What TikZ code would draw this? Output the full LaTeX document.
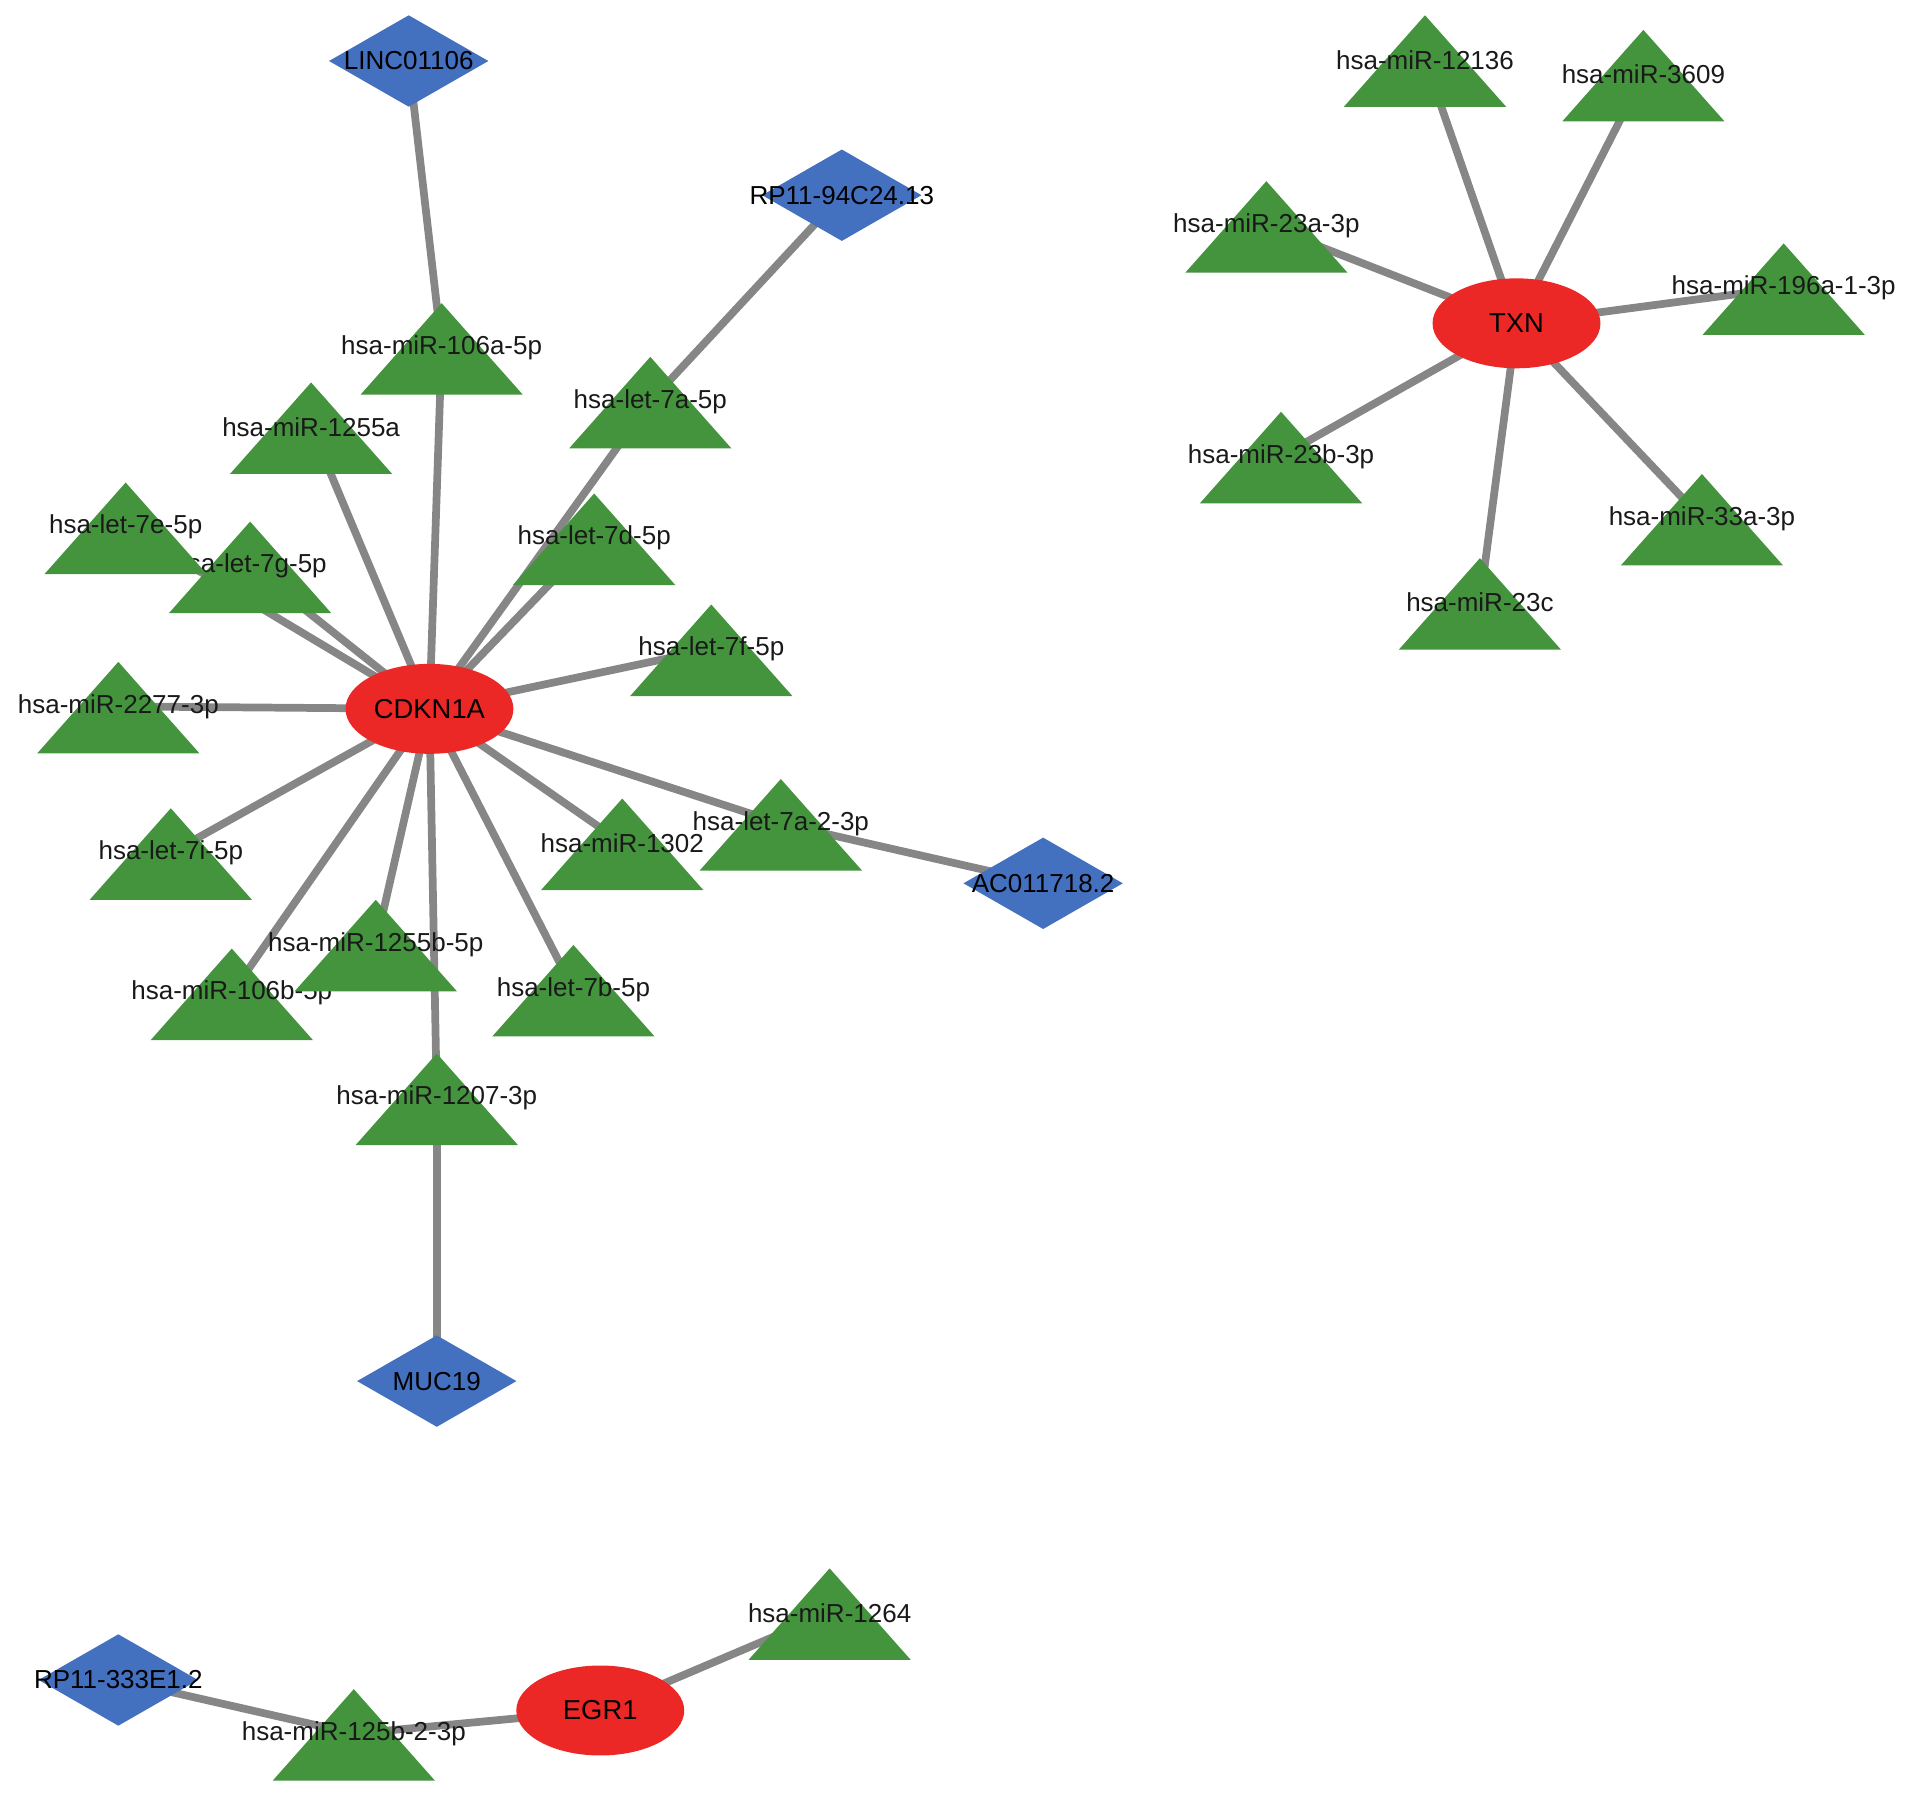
\documentclass[tikz,border=0pt]{standalone}
\usepackage{fontspec}
\setmainfont{Liberation Sans}
\usetikzlibrary{shapes.geometric}
\definecolor{trigreen}{RGB}{68,148,62}
\definecolor{genered}{RGB}{236,40,38}
\definecolor{lncblue}{RGB}{68,112,192}
\definecolor{edgegray}{RGB}{134,134,134}
\pgfdeclarelayer{bg}
\pgfsetlayers{bg,main}
\newcommand\mirnode[4]{%
  \fill[trigreen] (#2,#3-37.5) -- (#2+66.5,#3+37.5) -- (#2-66.5,#3+37.5) -- cycle;
  \node[lab] (#1) at (#2,#3-1) {#4};}
\newcommand\lncnode[4]{%
  \node[lnc] (#1) at (#2,#3) {\makebox[0pt][c]{#4}};}
\begin{document}
\begin{tikzpicture}[x=0.0122cm,y=-0.0122cm,
  lab/.style={inner sep=0pt,font=\fontsize{7.4}{8}\selectfont,text=black!90},
  gene/.style={ellipse,fill=genered,minimum width=1.68cm,minimum height=0.9cm,inner sep=0pt,font=\fontsize{7.8}{8}\selectfont},
  lnc/.style={diamond,fill=lncblue,minimum width=1.6cm,minimum height=0.92cm,inner sep=0pt,aspect=1.75,font=\fontsize{7.4}{8}\selectfont},
  edge/.style={draw=edgegray,line width=2.2pt}]
\useasboundingbox (0,0) rectangle (1568,1471);
% --- CDKN1A cluster ---
\lncnode{linc}{335}{50}{LINC01106}
\lncnode{rp94}{690}{160}{RP11-94C24.13}
\mirnode{m106a}{362}{286}{hsa-miR-106a-5p}
\mirnode{m1255a}{255}{351}{hsa-miR-1255a}
\mirnode{l7a}{533}{330}{hsa-let-7a-5p}
\mirnode{l7g}{205}{465}{hsa-let-7g-5p}
\mirnode{l7e}{103}{433}{hsa-let-7e-5p}
\mirnode{l7d}{487}{442}{hsa-let-7d-5p}
\mirnode{l7f}{583}{533}{hsa-let-7f-5p}
\mirnode{m2277}{97}{580}{hsa-miR-2277-3p}
\node[gene] (cdkn) at (352,581) {CDKN1A};
\mirnode{l7i}{140}{700}{hsa-let-7i-5p}
\mirnode{m1302}{510}{692}{hsa-miR-1302}
\mirnode{l7a2}{640}{676}{hsa-let-7a-2-3p}
\lncnode{ac}{855}{724}{AC011718.2}
\mirnode{m106b}{190}{815}{hsa-miR-106b-5p}
\mirnode{m1255b}{308}{775}{hsa-miR-1255b-5p}
\mirnode{l7b}{470}{812}{hsa-let-7b-5p}
\mirnode{m1207}{358}{901}{hsa-miR-1207-3p}
\lncnode{muc}{358}{1132}{MUC19}
% --- TXN cluster ---
\mirnode{m12136}{1168}{50}{hsa-miR-12136}
\mirnode{m3609}{1347}{62}{hsa-miR-3609}
\mirnode{m23a}{1038}{186}{hsa-miR-23a-3p}
\mirnode{m196a}{1462}{237}{hsa-miR-196a-1-3p}
\mirnode{m23b}{1050}{375}{hsa-miR-23b-3p}
\mirnode{m33a}{1395}{426}{hsa-miR-33a-3p}
\mirnode{m23c}{1213}{495}{hsa-miR-23c}
\node[gene] (txn) at (1243,265) {TXN};
% --- EGR1 cluster ---
\lncnode{rp333}{97}{1377}{RP11-333E1.2}
\mirnode{m1264}{680}{1323}{hsa-miR-1264}
\mirnode{m125b}{290}{1422}{hsa-miR-125b-2-3p}
\node[gene] (egr) at (492,1402) {EGR1};
% --- edges ---
\begin{pgfonlayer}{bg}
\foreach \t in {m106a,m1255a,l7a,l7g,l7e,l7d,l7f,m2277,l7i,m1302,l7a2,m106b,m1255b,l7b,m1207}
  \draw[edge] (cdkn.center) -- (\t.center);
\draw[edge] (linc.center) -- (m106a.center);
\draw[edge] (rp94.center) -- (l7a.center);
\draw[edge] (ac.center) -- (l7a2.center);
\draw[edge] (muc.center) -- (m1207.center);
\foreach \t in {m12136,m3609,m23a,m196a,m23b,m33a,m23c}
  \draw[edge] (txn.center) -- (\t.center);
\draw[edge] (egr.center) -- (m1264.center);
\draw[edge] (egr.center) -- (m125b.center);
\draw[edge] (rp333.center) -- (m125b.center);
\end{pgfonlayer}
\end{tikzpicture}
\end{document}
